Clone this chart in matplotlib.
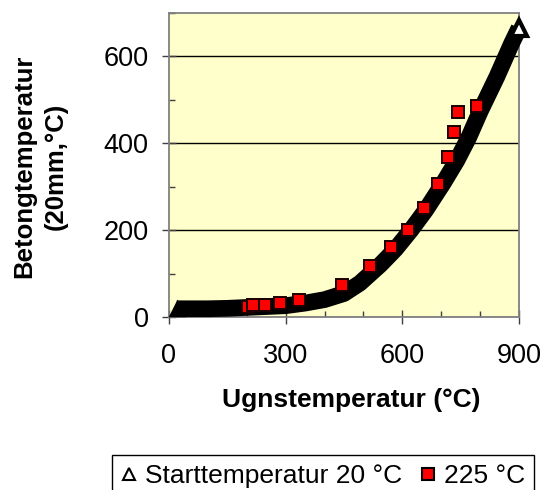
import matplotlib
matplotlib.use('Agg')
import matplotlib.pyplot as plt
from matplotlib.lines import Line2D

plt.rcParams['font.family'] = ['Liberation Sans', 'DejaVu Sans']

# ---- data ----
start_x = [20, 60, 100, 150, 200, 250, 300, 350, 400, 450, 491, 517, 543, 568,
           583, 622, 660, 705, 740, 770, 801, 843, 881, 900]
start_y = [19, 19, 19, 20, 22, 24, 26, 32, 40, 54, 78, 99, 120, 143,
           157, 200, 246, 308, 360, 412, 475, 553, 630, 665]

sq_x = [203, 217, 247, 285, 335, 446, 517, 571, 615, 656, 692, 718, 733, 744, 793]
sq_y = [24, 28, 28, 32, 39, 74, 117, 162, 200, 251, 306, 369, 427, 471, 487]

x_ticks = [0, 300, 600, 900]
x_minor = [100, 200, 400, 500, 700, 800]
y_ticks = [0, 200, 400, 600]
y_minor = [100, 300, 500, 700]

label_start = 'Starttemperatur 20 °C'
label_225 = '225 °C'
x_label = 'Ugnstemperatur (°C)'
y_label = 'Betongtemperatur\n(20mm,°C)'

W, H = 542, 490
fig = plt.figure(figsize=(W / 100, H / 100), dpi=100)
ax = fig.add_axes([169 / W, 1 - 317 / H, 350 / W, 304 / H])
ax.set_facecolor('#FFFFCC')
ax.set_xlim(0, 900)
ax.set_ylim(0, 700)

ax.set_xticks(x_ticks)
ax.set_xticks(x_minor, minor=True)
ax.set_yticks(y_ticks)
ax.set_yticks(y_minor, minor=True)
ax.yaxis.grid(True, which='major', color='black', lw=1.0)
ax.set_axisbelow(True)

ax.tick_params(which='major', direction='inout', length=10, width=1.0,
               color='#404040', labelsize=19.5)
ax.tick_params(axis='y', which='major', pad=9.5)
ax.tick_params(axis='x', which='major', pad=14)
ax.tick_params(which='minor', direction='in', length=4, width=1.0, color='#404040')

for s in ax.spines.values():
    s.set_color('#808080')
    s.set_linewidth(1.3)

# start-temperature series: dense triangle markers forming a black band
ax.plot(start_x, start_y, color='black', lw=12, solid_capstyle='butt',
        solid_joinstyle='round', zorder=3, clip_on=False)
ax.plot(start_x[:1], start_y[:1], ls='none', marker='^', ms=9,
        mfc='black', mec='black', mew=2.5, zorder=3, clip_on=False)
ax.plot(start_x[-1:], start_y[-1:], ls='none', marker='^', ms=11,
        mfc='white', mec='black', mew=3, zorder=5, clip_on=False)

# 225 °C series
ax.plot(sq_x, sq_y, ls='none', marker='s', ms=8, mfc='#FF0000',
        mec='#1a0000', mew=1.4, zorder=4)

fig.text(351 / W, 1 - 400 / H, x_label, fontsize=19, fontweight='bold',
         ha='center', va='center')
fig.text(40 / W, 1 - 166 / H, y_label, fontsize=18.5, fontweight='bold',
         ha='center', va='center', rotation=90, multialignment='center',
         linespacing=1.35)

h1 = Line2D([], [], ls='none', marker='^', ms=8, mfc='white', mec='black', mew=1.5)
h2 = Line2D([], [], ls='none', marker='s', ms=9, mfc='#FF0000', mec='black', mew=1.5)
leg = fig.legend(handles=[h1, h2], labels=[label_start, label_225],
                 loc='upper center', bbox_to_anchor=(323 / W, 1 - 455 / H), ncol=2,
                 frameon=True, fancybox=False, edgecolor='black', framealpha=1,
                 fontsize=19, handlelength=0.6, handletextpad=0.3,
                 columnspacing=0.7, borderpad=0.35, borderaxespad=0)
leg.get_frame().set_linewidth(1.0)

fig.savefig('out.png', dpi=100)
